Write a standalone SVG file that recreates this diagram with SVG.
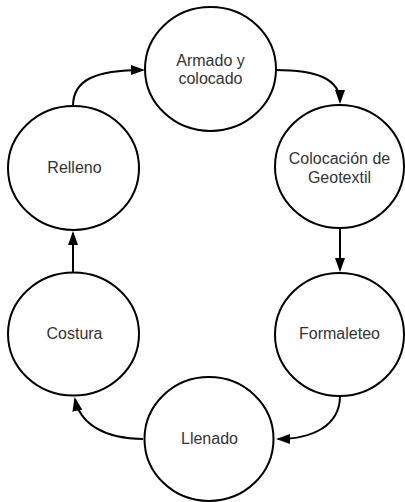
<svg xmlns="http://www.w3.org/2000/svg" width="405" height="502" viewBox="0 0 405 502">
<defs>
<style>
.node ellipse{fill:#ffffff;stroke:#000000;stroke-width:2}
.node text{font-family:"Liberation Sans",Arial,sans-serif;font-size:16px;fill:#333333;text-anchor:middle}
.edge{fill:none;stroke:#000000;stroke-width:2}
</style>
<marker id="arr" viewBox="0 0 14 10" refX="12" refY="5" markerWidth="14" markerHeight="10" markerUnits="userSpaceOnUse" orient="auto">
<path d="M0,0 L14,5 L0,10 Z" fill="#000000"/>
</marker>
</defs>
<rect width="405" height="502" fill="#ffffff"/>
<g id="connectors">
<path class="edge" d="M276,70 C315,70 340,78 340,102" marker-end="url(#arr)"/>
<path class="edge" d="M340,229 L340,270" marker-end="url(#arr)"/>
<path class="edge" d="M340,396 C340,426 312,439 278,439" marker-end="url(#arr)"/>
<path class="edge" d="M143,439 C105,439 80,424 75,399" marker-end="url(#arr)"/>
<path class="edge" d="M73,272 L73,233" marker-end="url(#arr)"/>
<path class="edge" d="M73,106 C73,80 95,70 143,70" marker-end="url(#arr)"/>
</g>
<g id="n1" class="node"><ellipse cx="210.5" cy="69" rx="65.5" ry="62"/><text x="210.5" y="65.5">Armado y</text><text x="210.5" y="84">colocado</text></g>
<g id="n2" class="node"><ellipse cx="339.5" cy="166.5" rx="64.5" ry="61.5"/><text x="339.5" y="163.5">Colocación de</text><text x="339.5" y="183">Geotextil</text></g>
<g id="n3" class="node"><ellipse cx="339.5" cy="334.5" rx="64.5" ry="61.5"/><text x="339.5" y="339">Formaleteo</text></g>
<g id="n4" class="node"><ellipse cx="209" cy="439" rx="64.5" ry="62"/><text x="209.5" y="444">Llenado</text></g>
<g id="n5" class="node"><ellipse cx="73.5" cy="334" rx="65.5" ry="61.5"/><text x="74.5" y="339">Costura</text></g>
<g id="n6" class="node"><ellipse cx="73.5" cy="168" rx="65.5" ry="62"/><text x="74.5" y="173">Relleno</text></g>
</svg>
